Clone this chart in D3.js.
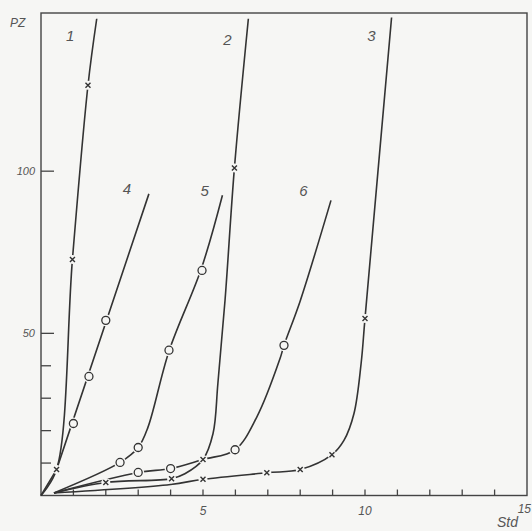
<!DOCTYPE html>
<html>
<head>
<meta charset="utf-8">
<script src="https://d3js.org/d3.v7.min.js"></script>
<style>
  html, body { margin: 0; padding: 0; background: #f6f6f4; }
  svg { display: block; }
  text { font-family: "Liberation Sans", "DejaVu Sans", sans-serif; font-style: italic; fill: #555; }
</style>
</head>
<body>
<div id="chart"></div>
<script>
// Dimensions of visualisation.
var width = 532;
var height = 531;

// Curve names, as written next to each line.
var names = ["1", "2", "3", "4", "5", "6"];

// Line points for each curve, [Std, PZ].
var line1 = [[0, 0], [0.48, 8], [0.97, 72.8], [1.45, 126.5], [1.72, 147]];
var line2 = [[0.4, 0.8], [2.0, 4.0], [4.03, 5.2], [4.44, 6.7], [5.0, 11.1], [5.31, 19.1],
             [5.46, 34.6], [5.68, 60.2], [5.97, 101], [6.4, 147]];
var line3 = [[0.4, 0.8], [4.0, 3.4], [5.0, 5.0], [6.97, 7.0], [8.0, 8.0], [8.98, 12.6],
             [9.35, 17], [9.66, 25.3], [9.88, 40.7], [10.0, 54.6], [10.82, 147.4]];
var line4 = [[0, 0], [0.48, 8], [3.33, 93]];
var line5 = [[0.4, 0.8], [2.44, 10.2], [3.0, 14.8], [3.3, 21], [3.95, 44.5],
             [4.95, 70], [5.6, 92.6]];
var line6 = [[0.4, 0.8], [3.0, 7.1], [4.0, 8.3], [5.0, 11.1], [5.99, 14.1], [6.66, 24.2],
             [7.38, 42.3], [7.5, 46.3], [8.0, 60], [8.95, 91]];

// Measured points drawn as markers on each curve.
var marks1 = [[0.48, 8], [0.97, 72.8], [1.45, 126.5]];
var marks2 = [[2.0, 4.0], [4.03, 5.2], [5.0, 11.1], [5.97, 101]];
var marks3 = [[5.0, 5.0], [6.97, 7.0], [8.0, 8.0], [8.98, 12.6], [10.0, 54.6]];
var marks4 = [[1.0, 22.2], [1.48, 36.7], [2.0, 54]];
var marks5 = [[2.44, 10.2], [3.0, 14.8], [3.95, 44.8], [4.97, 69.4]];
var marks6 = [[3.0, 7.1], [4.0, 8.3], [5.99, 14.1], [7.5, 46.3]];

// Marker shape per curve: crosses for 1-3, open circles for 4-6.
var shapes = ["x", "x", "x", "o", "o", "o"];

// Label positions for curve numbers, [Std, PZ].
var labelAt = [[0.9, 140], [5.75, 139], [10.2, 140], [2.65, 93], [5.05, 92.5], [8.1, 92.5]];

// Axis ticks.
var xTicks = d3.range(1, 15);
var xTickLabels = [5, 10, 15];
var yTicks = [10, 20, 30, 40, 50, 100];
var yTickLabels = [50, 100];

var lines = [line1, line2, line3, line4, line5, line6];
var marks = [marks1, marks2, marks3, marks4, marks5, marks6];

var ink = "#333";
var paper = "#f6f6f4";

var x = d3.scaleLinear().domain([0, 15]).range([41, 527]);
var y = d3.scaleLinear().domain([0, 148]).range([495.5, 15.5]);

var svg = d3.select("#chart").append("svg")
    .attr("width", width)
    .attr("height", height);

svg.append("rect")
    .attr("width", width)
    .attr("height", height)
    .attr("fill", paper);

// Frame round the plot.
svg.append("rect")
    .attr("x", x(0))
    .attr("y", 13)
    .attr("width", x(15) - x(0))
    .attr("height", y(0) - 13)
    .attr("fill", "none")
    .attr("stroke", "#444")
    .attr("stroke-width", 1.4);

// Ticks on the x axis, pointing up.
svg.append("g").selectAll("line")
    .data(xTicks)
  .enter().append("line")
    .attr("x1", function(d) { return x(d); })
    .attr("x2", function(d) { return x(d); })
    .attr("y1", y(0))
    .attr("y2", y(0) - 6)
    .attr("stroke", "#444")
    .attr("stroke-width", 1.3);

svg.append("g").selectAll("text")
    .data(xTickLabels)
  .enter().append("text")
    .attr("x", function(d) { return x(d); })
    .attr("y", function(d) { return d === 15 ? 513 : 515; })
    .attr("text-anchor", function(d) { return d === 15 ? "end" : "middle"; })
    .attr("dx", function(d) { return d === 15 ? 4 : 0; })
    .style("font-size", "12px")
    .text(function(d) { return d; });

// Ticks on the y axis, pointing inwards.
svg.append("g").selectAll("line")
    .data(yTicks)
  .enter().append("line")
    .attr("x1", x(0))
    .attr("x2", function(d) { return x(0) + (d % 50 === 0 ? 13 : 10); })
    .attr("y1", function(d) { return y(d); })
    .attr("y2", function(d) { return y(d); })
    .attr("stroke", "#444")
    .attr("stroke-width", 1.3);

svg.append("g").selectAll("text")
    .data(yTickLabels)
  .enter().append("text")
    .attr("x", 35)
    .attr("y", function(d) { return y(d) + 4; })
    .attr("text-anchor", "end")
    .style("font-size", "11px")
    .text(function(d) { return d; });

// Axis titles.
svg.append("text")
    .attr("x", 10)
    .attr("y", 27)
    .style("font-size", "12px")
    .text("PZ");

svg.append("text")
    .attr("x", 497)
    .attr("y", 527)
    .style("font-size", "14px")
    .text("Std");

// Curves; 4 is ruled straight, the others are drawn smooth.
var smooth = d3.line()
    .x(function(d) { return x(d[0]); })
    .y(function(d) { return y(d[1]); })
    .curve(d3.curveCatmullRom.alpha(0.5));

var ruled = d3.line()
    .x(function(d) { return x(d[0]); })
    .y(function(d) { return y(d[1]); });

svg.append("g").selectAll("path")
    .data(lines)
  .enter().append("path")
    .attr("d", function(d, i) { return i === 3 ? ruled(d) : smooth(d); })
    .attr("fill", "none")
    .attr("stroke", ink)
    .attr("stroke-width", 1.6);

// Markers; a paper-coloured disc breaks the line round each one.
marks.forEach(function(pts, i) {
  var g = svg.append("g");
  var m = g.selectAll("g")
      .data(pts)
    .enter().append("g")
      .attr("transform", function(d) { return "translate(" + x(d[0]) + "," + y(d[1]) + ")"; });

  m.append("circle")
      .attr("r", shapes[i] === "o" ? 6 : 4.5)
      .attr("fill", paper);

  if (shapes[i] === "o") {
    m.append("circle")
        .attr("r", 4)
        .attr("fill", "none")
        .attr("stroke", ink)
        .attr("stroke-width", 1.3);
  } else {
    m.append("path")
        .attr("d", "M-2.5,-2.5L2.5,2.5M-2.5,2.5L2.5,-2.5")
        .attr("stroke", ink)
        .attr("stroke-width", 1.4);
  }
});

// Curve numbers.
svg.append("g").selectAll("text")
    .data(names)
  .enter().append("text")
    .attr("x", function(d, i) { return x(labelAt[i][0]); })
    .attr("y", function(d, i) { return y(labelAt[i][1]); })
    .attr("text-anchor", "middle")
    .style("font-size", "15px")
    .text(function(d) { return d; });
</script>
</body>
</html>
